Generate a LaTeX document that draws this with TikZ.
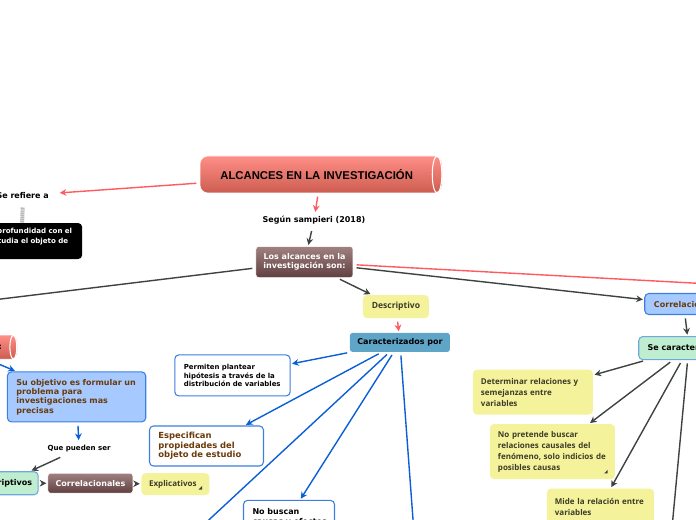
\documentclass[tikz,border=0pt]{standalone}
\usepackage{fontspec}
\setmainfont{DejaVu Sans}
\newfontfamily\titlefont{Liberation Sans}
\newfontfamily\notefont{Open Sans}
\usetikzlibrary{arrows.meta, positioning}

\definecolor{redline}{HTML}{FF5A5F}
\definecolor{darkline}{HTML}{3C4340}
\definecolor{blueline}{HTML}{0B5FD6}
\definecolor{yellowfill}{HTML}{F4F29B}
\definecolor{bluefill}{HTML}{A6CAFF}
\definecolor{brownink}{HTML}{6B3A0A}
\definecolor{redtop}{HTML}{FF8F87}
\definecolor{redbottom}{HTML}{CD5C50}
\definecolor{browntop}{HTML}{A08080}
\definecolor{brownbottom}{HTML}{5F3F3F}
\definecolor{tealfill}{HTML}{5FA5C7}
\definecolor{greenfill}{HTML}{BFEDCF}
\definecolor{greenedge}{HTML}{6FA8DC}

\newcommand{\cornermark}[1]{\fill[darkline] ([shift={(-8.25pt,4.5pt)}]#1.south east) -- ++(2.6pt,0) -- ++(0,2.6pt) -- cycle;}
\newcommand{\padright}[1]{\rule{#1}{0pt}}

\begin{document}
\begin{tikzpicture}[x=0.75pt, y=-0.75pt,
        plain/.style={font=\fontsize{6}{7}\selectfont\bfseries, inner xsep=2pt, inner ysep=0pt, minimum height=10.5pt},
        cyl/.style={rectangle, rounded corners=6pt, top color=redtop, bottom color=redbottom, draw=white, inner sep=0pt},
        brownbox/.style={rectangle, rounded corners=2pt, top color=browntop, bottom color=brownbottom, draw=white, text=white, align=center, inner sep=0pt, font=\fontsize{6}{7}\selectfont\bfseries},
        yellowbox/.style={rectangle, rounded corners=3pt, fill=yellowfill, text=black!75!yellowfill, inner xsep=6pt, inner ysep=0pt, align=left, font=\notefont\fontsize{6}{8.2}\selectfont\bfseries},
        whitebox/.style={rectangle, rounded corners=3pt, draw=blueline!80!white, fill=white, thick, inner xsep=6.75pt, inner ysep=0pt, align=left},
        greenbox/.style={rectangle, rounded corners=3pt, draw=greenedge, fill=greenfill, thick, inner sep=0pt, font=\fontsize{6}{7}\selectfont\bfseries},
        bluebox/.style={rectangle, rounded corners=3pt, draw=blueline!80!white, fill=bluefill, thick, text=brownink, inner xsep=6.75pt, inner ysep=0pt, align=left, font=\fontsize{6}{7}\selectfont\bfseries},
        arr/.style={-{Stealth[length=5pt,width=5pt]}, line width=1.05pt, shorten >=1pt, shorten <=2.5pt},
        redarr/.style={arr, redline},
        darkarr/.style={arr, darkline},
        bluearr/.style={arr, blueline},
        redrun/.style={redline, line width=1.05pt, shorten <=2.5pt},
        darkrun/.style={darkline, line width=1.05pt, shorten <=2.5pt},
        bluerun/.style={blueline, line width=1.05pt, shorten <=2.5pt}]
      \clip (0,0) rectangle (696,520);
      \useasboundingbox (0,0) rectangle (696,520);
      \node[cyl, minimum width=181.5pt, minimum height=27.75pt] (main) at (321,174.5) {\titlefont\fontsize{8.5}{10}\selectfont\bfseries ALCANCES EN LA INVESTIGACIÓN\padright{6.5pt}};
      \draw[white, thick] ([xshift=-3.9pt]main.east) ellipse (3.6pt and 13.8pt);
      \node[plain, below=15pt of main, xshift=-5.25pt] (segun) {Según sampieri (2018)};
      \node[plain, left=111pt of main, yshift=-15.75pt] (refiere) {Se refiere a};
      \node[rectangle, rounded corners=3pt, fill=black, text=white, below=15pt of refiere, xshift=-0.4pt, minimum height=27pt, text width=75pt, inner xsep=7.5pt, inner ysep=0pt, align=right, font=\fontsize{5.3}{7.4}\selectfont\bfseries] (profundidad) {profundidad con el\\ estudia el objeto de\padright{3pt}\\ \phantom{x}};
      \node[brownbox, below=39.75pt of main, xshift=-12.4pt, minimum width=72.75pt, minimum height=23.25pt] (alcances) {Los alcances en la\\ investigación son:};
      \node[yellowbox, below=12.75pt of alcances, xshift=68.6pt, minimum width=49.5pt, minimum height=17.25pt, inner xsep=0pt, align=center, font=\notefont\fontsize{6.4}{8}\selectfont\bfseries] (descriptivo) {Descriptivo};
      \node[rectangle, rounded corners=2pt, fill=tealfill, below=10.75pt of descriptivo, xshift=3pt, minimum width=75pt, minimum height=14.25pt, inner sep=0pt, font=\fontsize{6}{7}\selectfont\bfseries] (caracterizados) {Caracterizados por};
      \node[whitebox, left=44.25pt of caracterizados, yshift=-24.75pt, text width=73pt, minimum height=30.75pt, font=\fontsize{5.2}{6.4}\selectfont\bfseries] (permiten) {Permiten plantear\\ hipótesis a través de la\\ distribución de variables};
      \node[whitebox, below=21.75pt of permiten, xshift=-19.5pt, text width=72pt, minimum height=30pt, text=brownink, font=\fontsize{6.3}{7.2}\selectfont\bfseries] (especifican) {Especifican\\ propiedades del\\ objeto de estudio};
      \node[whitebox, below=25pt of especifican, xshift=61.9pt, text width=54.75pt, minimum height=25.5pt, font=\fontsize{6}{8}\selectfont\bfseries] (nobuscan) {No buscan\\ \mbox{causas y efectos}};
      \node[bluebox, left=21pt of permiten, yshift=-16.1pt, text width=90.25pt, minimum height=37.5pt] (objetivo) {Su objetivo es formular un\\ problema para\\ investigaciones mas\\ precisas};
      \node[cyl, above=9pt of objetivo, xshift=-88.5pt, minimum width=87.75pt, minimum height=18pt, font=\fontsize{6}{7}\selectfont\bfseries, rounded corners=4pt, text width=84pt, align=right] (exploratorio) {Exploratorio:\padright{9.5pt}};
      \draw[white, thick] ([xshift=-3pt]exploratorio.east) ellipse (2.6pt and 8.8pt);
      \node[plain, below=14.25pt of objetivo, xshift=1.9pt, font=\fontsize{5.3}{6}\selectfont\bfseries] (pueden) {Que pueden ser};
      \node[brownbox, below=12.75pt of pueden, xshift=8.5pt, minimum width=63.75pt, minimum height=15pt] (correlacionales) {Correlacionales};
      \node[greenbox, left=6.75pt of correlacionales, minimum width=51pt, minimum height=17.25pt] (descriptivos) {Descriptivos};
      \node[yellowbox, right=6pt of correlacionales, yshift=-0.75pt, minimum width=51pt, minimum height=16.5pt, inner xsep=0pt, align=center] (explicativos) {Explicativos\padright{4pt}};
      \node[bluebox, right=218.25pt of alcances, yshift=-31.5pt, minimum width=58.5pt, minimum height=15.75pt, inner xsep=0pt, align=center] (correlacional) {Correlacional};
      \node[greenbox, below=15.75pt of correlacional, xshift=3.75pt, minimum width=75pt, minimum height=17.25pt, align=center] (caracteriza) {Se caracteriza por};
      \node[yellowbox, left=33.75pt of caracteriza, yshift=-33pt, text width=78pt, minimum height=33.75pt] (determinar) {Determinar relaciones y\\ semejanzas entre\\ variables};
      \node[yellowbox, below=6.75pt of determinar, xshift=14.6pt, text width=81.75pt, minimum height=41.25pt] (pretende) {No pretende buscar\\ relaciones causales del\\ fenómeno, solo indicios de\\ posibles causas};
      \node[yellowbox, below=6.75pt of pretende, xshift=36pt, text width=68.25pt, minimum height=27pt] (mide) {Mide la relación entre\\ variables};
      \cornermark{explicativos}
      \cornermark{pretende}
      % free ends outside the page
      \coordinate (freeleft) at (-40,304);
      \coordinate (freered) at (720,284.5);
      \coordinate (freecausal) at (170,556);
      \coordinate (freebottom) at (416,560);
      \coordinate (freeright) at (669,560);
      \coordinate (markup) at ([yshift=-9pt]refiere.center);
      % grey mark under the label
      \draw[gray!55, line width=3pt, dash pattern=on 1pt off 0.4pt] (markup) -- (profundidad.north);
      \draw[redarr] (main) -- (segun);
      \draw[redarr, shorten >=6pt] (main) -- (refiere);
      \draw[darkarr] (segun) -- (alcances);
      \draw[darkarr] (alcances) -- (descriptivo);
      \draw[darkarr] (alcances) -- (correlacional);
      \draw[darkrun] (alcances) -- (freeleft);
      \draw[redrun] (alcances) -- (freered);
      \draw[redarr] (descriptivo) -- (caracterizados);
      \draw[bluearr] (caracterizados) -- (permiten);
      \draw[bluearr] (caracterizados) -- (especifican);
      \draw[bluearr] (caracterizados) -- (nobuscan);
      \draw[bluerun] (caracterizados) -- (freecausal);
      \draw[bluerun] (caracterizados) -- (freebottom);
      \draw[bluearr] (exploratorio) -- (objetivo);
      \draw[bluearr] (objetivo) -- (pueden);
      \draw[darkarr] (pueden) -- (descriptivos);
      \draw[darkarr] (descriptivos) -- (correlacionales);
      \draw[darkarr] (correlacionales) -- (explicativos);
      \draw[darkarr] (correlacional) -- (caracteriza);
      \draw[darkarr] (caracteriza) -- (determinar);
      \draw[darkarr] (caracteriza) -- (pretende);
      \draw[darkarr] (caracteriza) -- (mide);
      \draw[darkrun] (caracteriza) -- (freeright);
    \end{tikzpicture}
\end{document}
